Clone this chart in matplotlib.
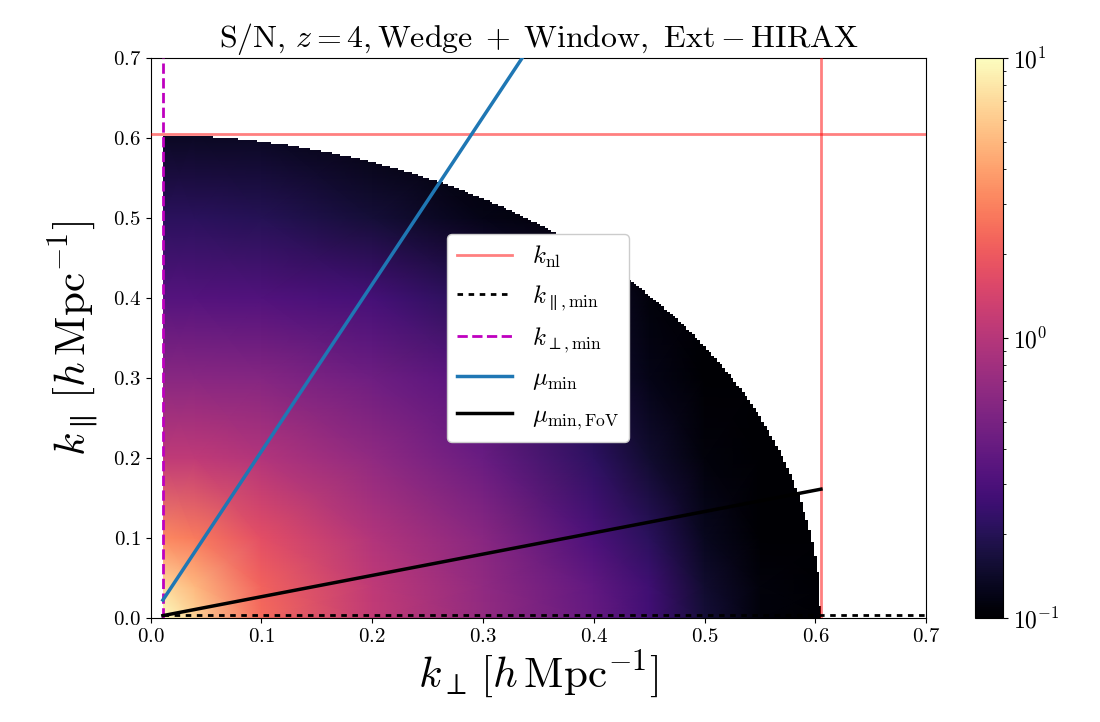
import numpy as np
import matplotlib
matplotlib.use("Agg")
import matplotlib.pyplot as plt
from matplotlib.colors import LogNorm
from matplotlib.patches import PathPatch
from matplotlib.path import Path

plt.rcParams['font.family'] = 'serif'
plt.rcParams['font.serif'] = ['cmr10']
plt.rcParams['mathtext.fontset'] = 'cm'
plt.rcParams['axes.formatter.use_mathtext'] = True
plt.rcParams['axes.unicode_minus'] = False

# cut-offs (h/Mpc)
k_nl = 0.605
k_par_min = 0.004
k_perp_min = 0.011

# S/N on a coarse grid (rows: k_par, cols: k_perp)
k_perp_nodes = [0.011, 0.04, 0.1, 0.2, 0.3, 0.4, 0.45, 0.5, 0.55, 0.61]
k_par_nodes = [0.0, 0.04, 0.1, 0.2, 0.3, 0.4, 0.5, 0.61]
snr = [
    [10.0, 6.5, 2.4, 1.15, 0.68, 0.40, 0.27, 0.16, 0.11, 0.10],
    [7.0, 5.0, 2.2, 1.10, 0.66, 0.38, 0.26, 0.15, 0.11, 0.10],
    [3.2, 2.8, 1.7, 0.95, 0.60, 0.30, 0.21, 0.13, 0.10, 0.10],
    [1.1, 1.1, 0.95, 0.65, 0.42, 0.22, 0.15, 0.11, 0.10, 0.10],
    [0.6, 0.6, 0.58, 0.45, 0.33, 0.16, 0.12, 0.10, 0.10, 0.10],
    [0.33, 0.33, 0.32, 0.28, 0.20, 0.15, 0.11, 0.10, 0.10, 0.10],
    [0.21, 0.21, 0.20, 0.16, 0.12, 0.10, 0.10, 0.10, 0.10, 0.10],
    [0.13, 0.13, 0.13, 0.11, 0.10, 0.10, 0.10, 0.10, 0.10, 0.10],
]

# wedge lines (end points)
mu_min_kperp = [0.011, 0.345]
mu_min_kpar = [0.0225, 0.72]
mu_fov_kperp = [0.011, 0.605]
mu_fov_kpar = [0.003, 0.161]

fig = plt.figure(figsize=(11, 7.22), dpi=100)
ax = fig.add_axes([0.137, 0.144, 0.705, 0.776])
cax = fig.add_axes([0.886, 0.144, 0.026, 0.776])

mesh = ax.pcolormesh(k_perp_nodes, k_par_nodes, np.array(snr), shading='gouraud',
                     cmap='magma', norm=LogNorm(vmin=0.1, vmax=10), zorder=1)

# keep only the cells inside k_nl and right of k_perp,min (stepped edge like a grid)
dk = 0.0025
verts = [(k_perp_min, 0.0)]
x = k_perp_min
while x < k_nl:
    xc = min(x + dk / 2, k_nl)
    top = np.floor(np.sqrt(max(k_nl**2 - xc**2, 0.0)) / dk) * dk
    verts += [(x, top), (min(x + dk, k_nl), top)]
    x += dk
verts += [(k_nl, 0.0), (k_perp_min, 0.0)]
clip = PathPatch(Path(verts), transform=ax.transData, facecolor='none', edgecolor='none')
mesh.set_clip_path(clip)

ax.axhline(k_nl, color='r', alpha=0.5, lw=2, label=r'$k_{\rm nl}$', zorder=3)
ax.axvline(k_nl, color='r', alpha=0.5, lw=2, zorder=3)
ax.plot([k_perp_min, 0.7], [k_par_min, k_par_min], color='k', ls=(0, (2, 2)), lw=2,
        label=r'$k_{\parallel,{\rm min}}$', zorder=3)
ax.axvline(k_perp_min, color='m', ls='--', lw=2, label=r'$k_{\perp,{\rm min}}$', zorder=3)
ax.plot(mu_min_kperp, mu_min_kpar, color='tab:blue', lw=2.5, label=r'$\mu_{\rm min}$', zorder=3)
ax.plot(mu_fov_kperp, mu_fov_kpar, color='k', lw=2.5, label=r'$\mu_{\rm min,FoV}$', zorder=3)

ax.set_xlim(0, 0.7)
ax.set_ylim(0, 0.7)
ax.set_xticks(np.arange(0, 0.71, 0.1))
ax.set_yticks(np.arange(0, 0.71, 0.1))
ax.tick_params(labelsize=15)
ax.set_xlabel(r'$k_\perp\,[h\,\mathrm{Mpc}^{-1}]$', fontsize=31, labelpad=2)
ax.set_ylabel(r'$k_\parallel\,[h\,\mathrm{Mpc}^{-1}]$', fontsize=31, labelpad=8)
ax.set_title(r'$\mathrm{S/N},\, z=4, \mathrm{Wedge}\;+\;\mathrm{Window},\ \mathrm{Ext}-\mathrm{HIRAX}$',
             fontsize=23, pad=8)

ax.legend(loc='center', fontsize=18, handlelength=2.2, labelspacing=0.5, framealpha=1)

cb = fig.colorbar(mesh, cax=cax)
cb.ax.tick_params(labelsize=17)

fig.savefig('out.png', dpi=100)
